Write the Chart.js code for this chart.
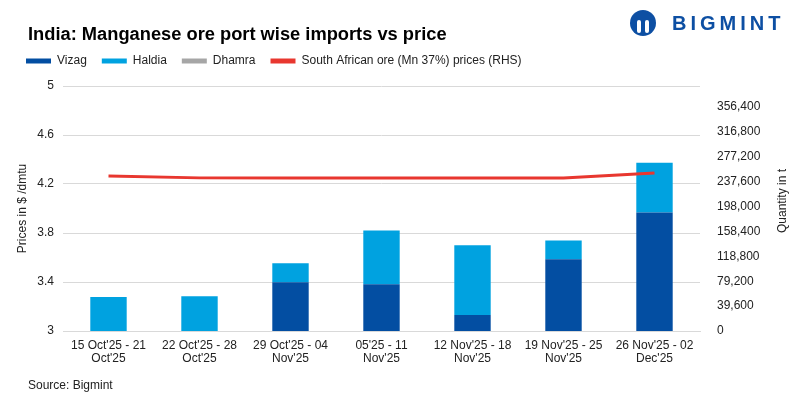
<!DOCTYPE html>
<html>
<head>
<meta charset="utf-8">
<script src="https://cdn.jsdelivr.net/npm/chart.js@4.4.1/dist/chart.umd.min.js"></script>
<style>
  body { margin: 0; background: #fff; font-family: "Liberation Sans", Arial, sans-serif; }
  #wrap { position: relative; width: 798px; height: 397px; }
  #chartImports { position: absolute; left: 0; top: 0; }
  #title { position: absolute; left: 28px; top: 23px; font-size: 18.3px; line-height: 22px; font-weight: bold; color: #000; white-space: nowrap; }
  #logo { position: absolute; left: 630px; top: 9px; height: 28px; display: flex; align-items: center; }
  #logo .ico { width: 26px; height: 26px; border-radius: 50%; background: #0d4fa3; position: relative; overflow: hidden; }
  #logo .ico span { position: absolute; bottom: 3px; width: 4px; height: 13px; background: #fff; border-radius: 2px; }
  #logo .txt { margin-left: 16px; color: #0d4fa3; font-weight: bold; font-size: 20px; letter-spacing: 4px; }
  #source { position: absolute; left: 28px; top: 378px; font-size: 12px; color: #222; }
</style>
</head>
<body>
<div id="wrap">
  <canvas id="chartImports" width="798" height="397"></canvas>
  <div id="title">India: Manganese ore port wise imports vs price</div>
  <div id="logo"><div class="ico"><span style="left:7px"></span><span style="left:15px"></span></div><div class="txt">BIGMINT</div></div>
  <div id="source">Source: Bigmint</div>
</div>
<script>
document.addEventListener("DOMContentLoaded", function () {

  // data
  var weeks = [
    ["15 Oct'25 - 21", "Oct'25"],
    ["22 Oct'25 - 28", "Oct'25"],
    ["29 Oct'25 - 04", "Nov'25"],
    ["05'25 - 11", "Nov'25"],
    ["12 Nov'25 - 18", "Nov'25"],
    ["19 Nov'25 - 25", "Nov'25"],
    ["26 Nov'25 - 02", "Dec'25"]
  ];
  var vizag = [0, 0, 77600, 74400, 25300, 114000, 188500];
  var haldia = [53900, 55400, 30100, 85600, 110900, 30100, 79200];
  var dhamra = [0, 0, 0, 0, 0, 0, 0];
  var saPrice = [4.265, 4.25, 4.25, 4.25, 4.25, 4.25, 4.29];

  var priceTicks = [3, 3.4, 3.8, 4.2, 4.6, 5];
  var qtyTicks = [0, 39600, 79200, 118800, 158400, 198000, 237600, 277200, 316800, 356400];

  var textColor = '#222222';
  var gridColor = '#d9d9d9';

  Chart.defaults.font.family = "'Liberation Sans', Arial, sans-serif";

  // right axis title reads bottom-to-top like the left one
  var rightTitle = {
    id: 'rightTitle',
    beforeUpdate: function (chart) {
      if (chart.legend && !chart.legend._patched) {
        var fit = chart.legend.fit;
        chart.legend.fit = function () {
          fit.apply(this, arguments);
          this.height += 9;
        };
        chart.legend._patched = true;
      }
    },
    afterDraw: function (chart) {
      var c = chart.ctx;
      c.save();
      c.translate(783, 201);
      c.rotate(-Math.PI / 2);
      c.fillStyle = textColor;
      c.font = "12px 'Liberation Sans', Arial, sans-serif";
      c.textAlign = 'center';
      c.textBaseline = 'middle';
      c.fillText('Quantity in t', 0, 0);
      c.restore();
    }
  };

  let ctx = document.getElementById('chartImports');

  var myChart = new Chart(ctx, {
    type: 'bar',
    plugins: [rightTitle],
    data: {
      labels: weeks,
      datasets: [
        { label: "Vizag", data: vizag, backgroundColor: '#034ea2', yAxisID: 'y1', order: 1 },
        { label: "Haldia", data: haldia, backgroundColor: '#00a2e0', yAxisID: 'y1', order: 1 },
        { label: "Dhamra", data: dhamra, backgroundColor: '#a6a6a6', yAxisID: 'y1', order: 1 },
        {
          label: "South African ore (Mn 37%) prices (RHS)",
          type: 'line',
          data: saPrice,
          yAxisID: 'y',
          borderColor: '#e8372f',
          backgroundColor: '#e8372f',
          borderWidth: 3,
          pointRadius: 0,
          tension: 0,
          order: 0
        }
      ]
    },
    options: {
      responsive: false,
      animation: false,
      layout: { padding: { left: 11, right: 4, top: 40, bottom: 26 } },
      datasets: { bar: { categoryPercentage: 1, barPercentage: 0.4 } },
      scales: {
        x: {
          stacked: true,
          grid: { display: false },
          border: { color: gridColor },
          ticks: { color: textColor, font: { size: 12, lineHeight: 1.1 }, maxRotation: 0, autoSkip: false, padding: 0 },
          afterFit: function (scale) { scale.height = 40; }
        },
        y: {
          position: 'left',
          min: 3,
          max: 5,
          afterBuildTicks: function (scale) {
            scale.ticks = priceTicks.map(v => ({ value: v }));
          },
          ticks: {
            color: textColor,
            font: { size: 12 },
            padding: 9,
            callback: function (v) { return String(v); }
          },
          grid: { color: gridColor, drawTicks: false },
          border: { display: false },
          title: { display: true, text: 'Prices in $ /dmtu', color: textColor, font: { size: 12 } },
          afterFit: function (scale) { scale.width = 52; }
        },
        y1: {
          position: 'right',
          stacked: true,
          min: 0,
          max: 389600,
          afterBuildTicks: function (scale) {
            scale.ticks = qtyTicks.map(v => ({ value: v }));
          },
          ticks: {
            color: textColor,
            font: { size: 12 },
            padding: 9,
            callback: function (v) { return v.toLocaleString('en-US'); }
          },
          grid: { display: false },
          border: { display: false },
          afterFit: function (scale) { scale.width = 94; }
        }
      },
      plugins: {
        title: { display: false },
        legend: {
          display: true,
          align: 'start',
          labels: {
            color: textColor,
            font: { size: 12 },
            boxWidth: 25,
            boxHeight: 5,
            padding: 15,
            sort: function (a, b) { return a.datasetIndex - b.datasetIndex; },
            generateLabels: function (chart) {
              var items = Chart.defaults.plugins.legend.labels.generateLabels(chart);
              items.forEach(function (item) { item.lineWidth = 0; });
              return items;
            }
          }
        },
        tooltip: { enabled: false }
      }
    }
  });

});
</script>
</body>
</html>
